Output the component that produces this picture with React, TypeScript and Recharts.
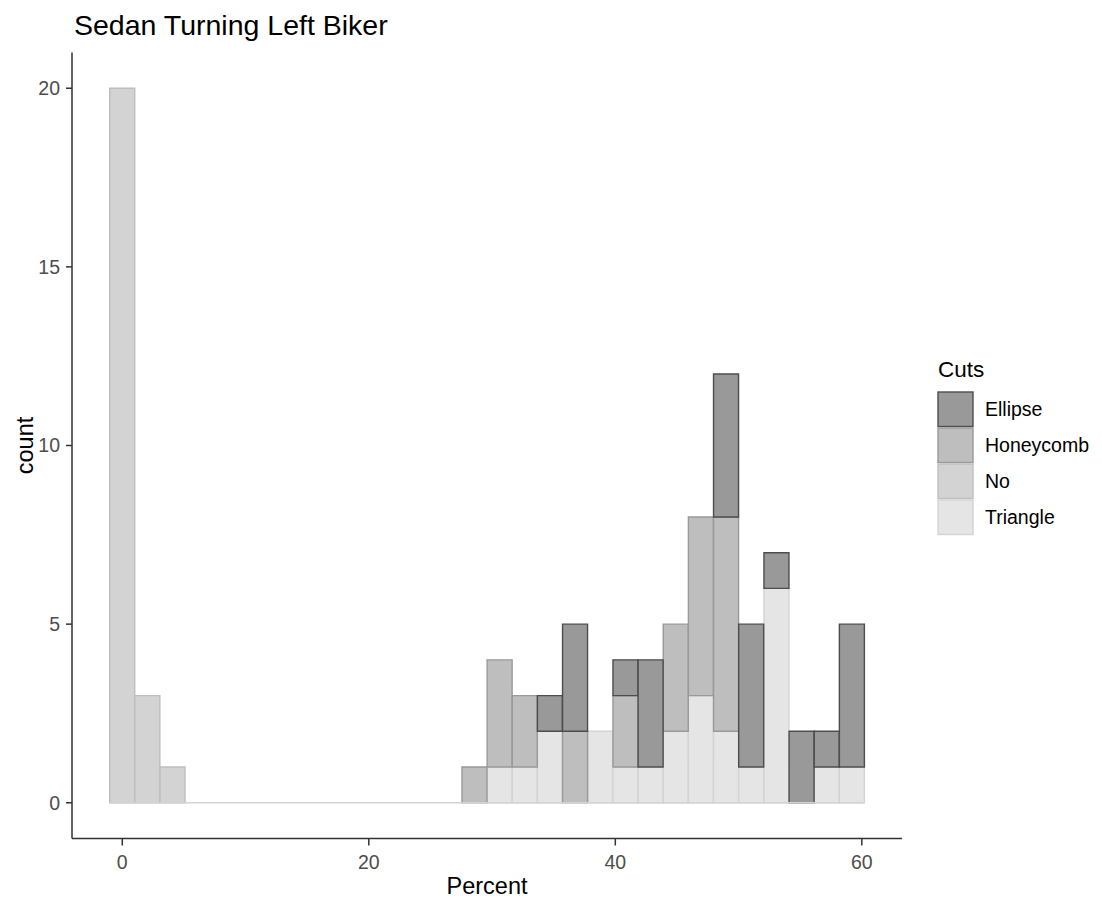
import { BarChart, Bar, XAxis, YAxis, ReferenceLine } from "recharts";

// histogram bins (centres, Percent), width ~2.04
const binWidth = 2.04;
const binCenters = [
  0, 2.04, 4.08, 6.12, 8.17, 10.21, 12.25, 14.29, 16.33, 18.37, 20.41, 22.46,
  24.5, 26.54, 28.58, 30.62, 32.66, 34.7, 36.74, 38.79, 40.83, 42.87, 44.91,
  46.95, 48.99, 51.03, 53.08, 55.12, 57.16, 59.2,
];

const triangle = [0, 0, 0, 0, 0, 0, 0, 0, 0, 0, 0, 0, 0, 0, 0, 1, 1, 2, 0, 2, 1, 1, 2, 3, 2, 1, 6, 0, 1, 1];
const no = [20, 3, 1, 0, 0, 0, 0, 0, 0, 0, 0, 0, 0, 0, 0, 0, 0, 0, 0, 0, 0, 0, 0, 0, 0, 0, 0, 0, 0, 0];
const honeycomb = [0, 0, 0, 0, 0, 0, 0, 0, 0, 0, 0, 0, 0, 0, 1, 3, 2, 0, 2, 0, 2, 0, 3, 5, 6, 0, 0, 0, 0, 0];
const ellipse = [0, 0, 0, 0, 0, 0, 0, 0, 0, 0, 0, 0, 0, 0, 0, 0, 0, 1, 3, 0, 1, 3, 0, 0, 4, 4, 1, 2, 1, 4];

const xTicks = [0, 20, 40, 60];
const yTicks = [0, 5, 10, 15, 20];

// legend order (top to bottom) as in the reference
const legendItems = [
  { name: "Ellipse", fill: "#999999", stroke: "#4d4d4d" },
  { name: "Honeycomb", fill: "#bebebe", stroke: "#999999" },
  { name: "No", fill: "#d3d3d3", stroke: "#bebebe" },
  { name: "Triangle", fill: "#e5e5e5", stroke: "#d3d3d3" },
];

const data = binCenters.map((x, i) => ({
  x,
  Triangle: triangle[i],
  No: no[i],
  Honeycomb: honeycomb[i],
  Ellipse: ellipse[i],
}));

const FONT = "Arial, 'Liberation Sans', sans-serif";
const style = (name: string) => legendItems.find((d) => d.name === name)!;

const firstEdge = binCenters[0] - binWidth / 2;
const lastEdge = binCenters[binCenters.length - 1] + binWidth / 2;

const CountLabel = (props: any) => {
  const vb = props.viewBox;
  const cy = vb.y + vb.height / 2;
  return (
    <text
      x={25}
      y={cy}
      transform={`rotate(-90, 25, ${cy})`}
      textAnchor="middle"
      fontSize={23.5}
      fontFamily={FONT}
      fill="#000"
    >
      count
    </text>
  );
};

const CutsLegend = () => (
  <g>
    <text x={930} y={369} fontSize={22.5} fontFamily={FONT} fill="#000">
      Cuts
    </text>
    {legendItems.map((d, i) => (
      <g key={d.name}>
        <rect
          x={930}
          y={384 + i * 36}
          width={35}
          height={34.5}
          fill={d.fill}
          stroke={d.stroke}
          strokeWidth={1.4}
        />
        <text
          x={977}
          y={401 + i * 36}
          dy="0.355em"
          fontSize={19.5}
          fontFamily={FONT}
          fill="#000"
        >
          {d.name}
        </text>
      </g>
    ))}
  </g>
);

export default function App() {
  const series = ["Triangle", "No", "Honeycomb", "Ellipse"];
  return (
    <div style={{ width: 1094, height: 895 }}>
      <BarChart
        width={1094}
        height={895}
        data={data}
        margin={{ top: 44.5, right: 200, left: 0, bottom: 0 }}
        barCategoryGap={0}
        barGap={0}
      >
        <XAxis
          dataKey="x"
          type="number"
          domain={[-4.08, 63.26]}
          ticks={xTicks}
          allowDataOverflow
          height={64.5}
          axisLine={{ stroke: "#333333", strokeWidth: 1.5 }}
          tickLine={{ stroke: "#333333", strokeWidth: 1.5 }}
          tickSize={7}
          tickMargin={10}
          tick={{ fill: "#4d4d4d", fontSize: 19.5, fontFamily: FONT }}
          label={{
            value: "Percent",
            position: "insideBottom",
            offset: 9,
            fill: "#000",
            fontSize: 23.5,
            fontFamily: FONT,
          }}
        />
        <YAxis
          type="number"
          domain={[-1, 21]}
          ticks={yTicks}
          allowDataOverflow
          width={64}
          axisLine={{ stroke: "#333333", strokeWidth: 1.5 }}
          tickLine={{ stroke: "#333333", strokeWidth: 1.5 }}
          tickSize={6}
          tickMargin={6}
          tick={{ fill: "#4d4d4d", fontSize: 19.5, fontFamily: FONT }}
          label={<CountLabel />}
        />
        <ReferenceLine
          segment={[
            { x: firstEdge, y: 0 },
            { x: lastEdge, y: 0 },
          ]}
          stroke="#d3d3d3"
          strokeWidth={1.4}
        />
        {series.map((s) => (
          <Bar
            key={s}
            dataKey={s}
            stackId="cuts"
            fill={style(s).fill}
            stroke={style(s).stroke}
            strokeWidth={1.4}
            isAnimationActive={false}
          />
        ))}
        <text x={66} y={27} fontSize={28.5} fontFamily={FONT} fill="#000">
          Sedan Turning Left Biker
        </text>
        <CutsLegend />
      </BarChart>
    </div>
  );
}
